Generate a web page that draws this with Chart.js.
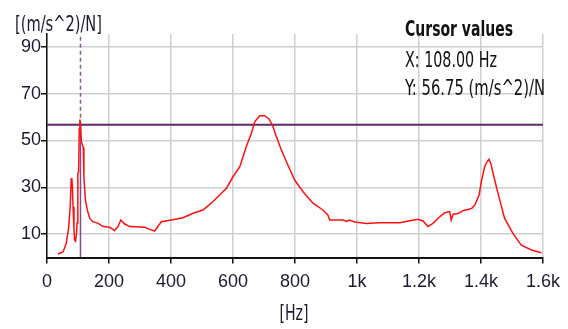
<!DOCTYPE html>
<html>
<head>
<meta charset="utf-8">
<script src="https://cdn.jsdelivr.net/npm/chart.js@4"></script>
<style>
  html, body { margin: 0; padding: 0; background: #fff; }
  #wrap { width: 568px; height: 329px; }
</style>
</head>
<body>
<div id="wrap"><canvas id="chart" width="568" height="329"></canvas></div>
<script>
const FREQ_HZ = [
  35, 45, 52, 62, 70, 75, 78, 80, 82, 84, 87, 89, 92, 95, 97, 99, 100, 102, 104, 106,
  108, 111, 115, 117, 119, 124, 130, 138, 148, 165, 181, 202, 218, 229, 238, 251, 267, 315, 331, 342,
  347, 369, 401, 439, 471, 503, 530, 557, 579, 600, 622, 643, 659, 670, 686, 702, 716, 727, 740, 756,
  777, 799, 826, 858, 890, 906, 912, 955, 966, 976, 993, 1030, 1073, 1138, 1170, 1197, 1213, 1229, 1245, 1267,
  1283, 1299, 1304, 1310, 1326, 1342, 1358, 1370, 1380, 1394, 1401, 1412, 1420, 1426, 1432, 1439, 1455, 1476, 1503, 1530,
  1563, 1595,
];

const MAGNITUDE = [
  1.5, 2, 2.5, 6, 13, 22, 33.5, 34, 30, 21.7, 12, 7.5, 7, 10, 14.7, 30, 36, 36.5, 55, 59,
  56.75, 49.5, 48, 47, 34.5, 24.6, 20.3, 16.7, 15.3, 14.6, 13.2, 12.9, 11.5, 13.2, 16, 14.3, 13.2, 12.9, 12, 11.5,
  11.3, 15.3, 16, 17, 18.9, 20.3, 23.2, 26.7, 29.6, 34.5, 38.8, 47.4, 53, 58, 60.6, 60.6, 59.2, 56.6, 51.6, 45.9,
  39.5, 33.1, 28.1, 23.2, 20.3, 18.2, 16, 16, 15.4, 16, 15.2, 14.5, 14.8, 14.9, 15.7, 16.3, 15.6, 13.2, 14.6, 17.4,
  19.1, 19.6, 16, 18.5, 18.8, 20, 20.5, 21, 22.4, 26.7, 32.4, 38.8, 41, 42, 40, 36, 27.4, 16.8, 10.3, 5.3,
  3.2, 2,
];

const X_TICKS = [0, 200, 400, 600, 800, 1000, 1200, 1400, 1600];
const X_TICK_LABELS = ['0', '200', '400', '600', '800', '1k', '1.2k', '1.4k', '1.6k'];
const Y_TICKS = [10, 30, 50, 70, 90];

const CURSOR_X = 108;
const CURSOR_Y = 56.75;
const Y_MAX = 95.5;

const FONT = '"Liberation Sans", Arial, sans-serif';
const TEXT_FONT = '"DejaVu Sans Condensed", "DejaVu Sans", sans-serif';
const TEXT_COLOR = '#1a1a30';

// labels that sit outside the axes (unit, cursor read-out); squeezed to the narrow source font
const textPlugin = {
  id: 'texts',
  afterDraw(chart) {
    const ctx = chart.ctx;
    ctx.save();
    ctx.fillStyle = TEXT_COLOR;
    ctx.textBaseline = 'alphabetic';
    ctx.textAlign = 'left';
    ctx.font = '21px ' + TEXT_FONT;
    ctx.fillText('[(m/s^2)/N]', 15, 30.5, 87);
    ctx.textAlign = 'center';
    ctx.fillText('[Hz]', 294, 319.5, 29);
    ctx.textAlign = 'left';
    ctx.fillStyle = '#111';
    ctx.font = 'bold 21px ' + TEXT_FONT;
    ctx.fillText('Cursor values', 405, 36, 108);
    ctx.font = '21px ' + TEXT_FONT;
    ctx.fillText('X: ' + CURSOR_X.toFixed(2) + ' Hz', 405, 66.5, 92);
    ctx.fillText('Y: ' + CURSOR_Y.toFixed(2) + ' (m/s^2)/N', 405, 95, 140);
    ctx.restore();
  },
};

const curve = FREQ_HZ.map((f, i) => ({ x: f, y: MAGNITUDE[i] }));

new Chart(document.getElementById('chart'), {
  type: 'line',
  data: {
    datasets: [
      {
        data: curve,
        borderColor: '#ff1010',
        borderWidth: 1.5,
        pointRadius: 0,
        tension: 0,
      },
      {
        data: [{ x: 0, y: CURSOR_Y }, { x: 1600, y: CURSOR_Y }],
        borderColor: '#5e2a66',
        borderWidth: 2,
        pointRadius: 0,
      },
      {
        data: [{ x: CURSOR_X, y: 0 }, { x: CURSOR_X, y: CURSOR_Y }],
        borderColor: '#7a5090',
        borderWidth: 1.5,
        pointRadius: 0,
      },
      {
        data: [{ x: CURSOR_X, y: CURSOR_Y }, { x: CURSOR_X, y: Y_MAX }],
        borderColor: '#8a5a9a',
        borderWidth: 1.5,
        borderDash: [4, 3],
        pointRadius: 0,
      },
    ],
  },
  options: {
    responsive: false,
    animation: false,
    devicePixelRatio: 1,
    layout: { padding: { top: 34, right: 25, left: 0, bottom: 0 } },
    plugins: {
      legend: { display: false },
      tooltip: { enabled: false },
    },
    scales: {
      x: {
        type: 'linear',
        min: 0,
        max: 1600,
        afterBuildTicks: (scale) => { scale.ticks = X_TICKS.map(v => ({ value: v })); },
        afterFit: (scale) => { scale.height = 71.5; },
        ticks: {
          color: TEXT_COLOR,
          font: { family: FONT, size: 18 },
          padding: 8,
          maxRotation: 0,
          callback: (v) => X_TICK_LABELS[X_TICKS.indexOf(v)],
        },
        grid: { color: '#d0d0d0', lineWidth: 1.5, tickColor: '#111', tickLength: 6 },
        border: { color: '#111', width: 2 },
      },
      y: {
        min: 0,
        max: Y_MAX,
        afterBuildTicks: (scale) => { scale.ticks = Y_TICKS.map(v => ({ value: v })); },
        afterFit: (scale) => { scale.width = 47; },
        ticks: {
          color: TEXT_COLOR,
          font: { family: FONT, size: 18 },
          padding: 0,
        },
        grid: { color: '#d0d0d0', lineWidth: 1.5, tickColor: '#111', tickLength: 6 },
        border: { color: '#111', width: 1.5 },
      },
    },
  },
  plugins: [textPlugin],
});
</script>
</body>
</html>
